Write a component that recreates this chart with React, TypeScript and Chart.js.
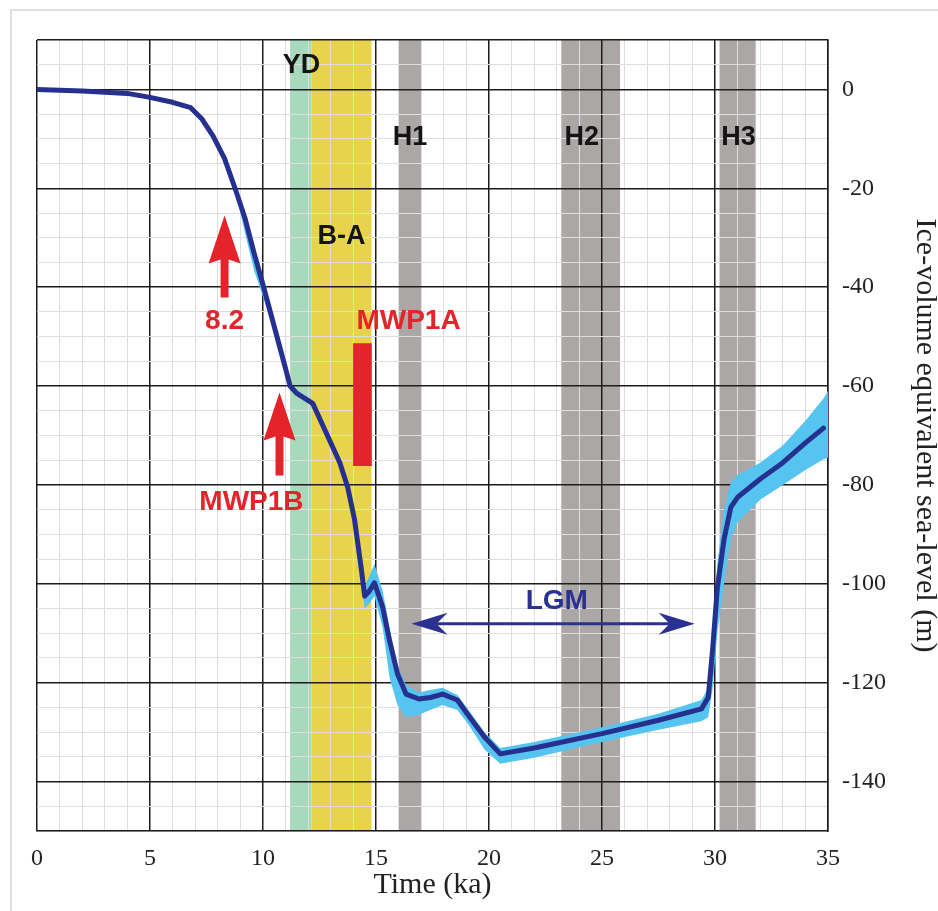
import { useEffect, useRef } from 'react';
import { Chart, registerables } from 'chart.js';

Chart.register(...registerables);

// Reconstructed ice-volume equivalent sea level (m) against age (ka)
const timeKa = [
  0, 2, 4, 5, 6, 6.8, 7.3, 7.8, 8.3, 8.8, 9.2, 9.6, 10.0, 10.5, 11.0, 11.2, 11.5, 12.2, 12.8, 13.4,
  13.75, 14.05, 14.35, 14.5, 14.7, 14.93, 15.3, 15.6, 15.95, 16.33, 16.9, 17.4, 17.95, 18.6, 19.1,
  19.8, 20.5, 22, 25, 27.5, 29.4, 29.7, 29.9, 30.1, 30.4, 30.7, 31.0, 32, 33, 34, 34.8, 35,
];
const seaLevel = [
  0, -0.3, -0.8, -1.6, -2.6, -3.7, -6, -9.5, -14, -20.5, -26, -33, -39.5, -48, -56.5, -60, -61.5, -63.5, -69.5, -75.5,
  -80.5, -87, -97, -102.5, -101.5, -99.8, -104.8, -111.5, -118.2, -122.3, -123.3, -123, -122.3, -123.5, -126.7,
  -131, -134.4, -133.2, -130.3, -127.6, -125.3, -123, -113, -101, -91, -84.5, -82.5, -78.8, -75.5, -71.5, -68.5, null,
];
const envelopeUpper = [
  0, -0.3, -0.8, -1.6, -2.6, -3.7, -6, -9.5, -14, -20, -25.5, -32.5, -39, -47.5, -56, -59.5, -61, -63, -69, -75,
  -80, -86, -95.5, -100.5, -98.5, -96, -101.5, -109, -116.5, -120.5, -122, -121.5, -121, -122.5, -125.5,
  -130, -133.2, -132, -129, -126.3, -123.5, -121, -109, -96, -85, -79.5, -78, -75.5, -72, -67, -62.5, -61,
];
const envelopeLower = [
  0, -0.3, -0.8, -1.6, -2.6, -3.7, -6, -9.5, -14, -21, -29, -36.5, -42, -49, -57, -60.5, -62, -64, -70, -76,
  -81.5, -88.5, -99, -105, -104, -102.5, -109, -119, -124.5, -127, -126.5, -125.5, -124.5, -125.5, -128.5,
  -133.5, -136.4, -135.2, -132, -129.5, -127.8, -127, -121, -110, -100, -91, -87.5, -83, -80, -77, -74.8, -74.5,
];

// Climate events shaded across the plot
const eventNames = ['YD', 'B-A', 'H1', 'H2', 'H3'];
const eventStart = [11.2, 12.15, 16.0, 23.2, 30.2];
const eventEnd = [12.15, 14.8, 17.0, 25.8, 31.8];
const eventColors = ['#a9d9bc', '#e8d34c', '#aca7a7', '#aca7a7', '#aca7a7'];
const eventLabelX = [11.7, 13.47, 16.5, 24.1, 31.04];
const eventLabelY = [4.75, -29.8, -9.7, -9.7, -9.7];

// Meltwater pulses marked with red arrows
const pulseNames = ['8.2', 'MWP1B'];
const pulseX = [8.3, 10.73];
const pulseTipY = [-25.5, -61.3];
const pulseTailY = [-42.1, -78.1];
const pulseLabelX = [8.3, 9.49];
const pulseLabelY = [-46.8, -83.6];

// MWP1A drawn as a red vertical bar
const mwp1aTime = 14.4;
const mwp1aRange = [-76.1, -51.4];
const mwp1aLabelX = 16.44;
const mwp1aLabelY = -46.8;

// Last Glacial Maximum span
const lgmStart = 16.57;
const lgmEnd = 29.1;
const lgmLevel = -108.1;
const lgmLabelX = 23.0;
const lgmLabelY = -103.6;

const xTickLabels = [0, 5, 10, 15, 20, 25, 30, 35];
const yTickLabels = [0, -20, -40, -60, -80, -100, -120, -140];

const RED = '#e5232b';
const NAVY = '#2b3190';

const overlayPlugin = {
  id: 'overlay',
  beforeDraw(chart: any) {
    const { ctx, chartArea, scales } = chart;
    const x = scales.x;
    ctx.save();
    eventStart.forEach((s, i) => {
      const x0 = x.getPixelForValue(s);
      const x1 = x.getPixelForValue(eventEnd[i]);
      ctx.fillStyle = eventColors[i];
      ctx.fillRect(x0, chartArea.top, x1 - x0, chartArea.bottom - chartArea.top);
    });
    ctx.restore();
  },
  afterDatasetsDraw(chart: any) {
    const { ctx, scales } = chart;
    const x = scales.x;
    const y = scales.y;
    ctx.save();
    ctx.textAlign = 'center';
    ctx.textBaseline = 'middle';

    // event labels
    ctx.fillStyle = '#141414';
    ctx.font = 'bold 27px "Liberation Sans", Arial, sans-serif';
    eventNames.forEach((n, i) => {
      ctx.fillText(n, x.getPixelForValue(eventLabelX[i]), y.getPixelForValue(eventLabelY[i]));
    });

    // pulse arrows
    ctx.fillStyle = RED;
    pulseX.forEach((px, i) => {
      const cx = x.getPixelForValue(px);
      const tip = y.getPixelForValue(pulseTipY[i]);
      const tail = y.getPixelForValue(pulseTailY[i]);
      const headLen = 48;
      const headHalf = 16;
      const shaftHalf = 4;
      ctx.beginPath();
      ctx.moveTo(cx, tip);
      ctx.lineTo(cx + headHalf, tip + headLen);
      ctx.lineTo(cx + shaftHalf, tip + headLen - 4);
      ctx.lineTo(cx + shaftHalf, tail);
      ctx.lineTo(cx - shaftHalf, tail);
      ctx.lineTo(cx - shaftHalf, tip + headLen - 4);
      ctx.lineTo(cx - headHalf, tip + headLen);
      ctx.closePath();
      ctx.fill();
    });
    ctx.font = 'bold 28px "Liberation Sans", Arial, sans-serif';
    pulseNames.forEach((n, i) => {
      ctx.fillText(n, x.getPixelForValue(pulseLabelX[i]), y.getPixelForValue(pulseLabelY[i]));
    });
    ctx.fillText('MWP1A', x.getPixelForValue(mwp1aLabelX), y.getPixelForValue(mwp1aLabelY));

    // LGM double arrow
    const lx0 = x.getPixelForValue(lgmStart);
    const lx1 = x.getPixelForValue(lgmEnd);
    const ly = y.getPixelForValue(lgmLevel);
    ctx.strokeStyle = NAVY;
    ctx.fillStyle = NAVY;
    ctx.lineWidth = 3;
    ctx.beginPath();
    ctx.moveTo(lx0 + 20, ly);
    ctx.lineTo(lx1 - 20, ly);
    ctx.stroke();
    const head = (tipX: number, dir: number) => {
      ctx.beginPath();
      ctx.moveTo(tipX, ly);
      ctx.lineTo(tipX + dir * 36, ly - 11);
      ctx.lineTo(tipX + dir * 25, ly);
      ctx.lineTo(tipX + dir * 36, ly + 11);
      ctx.closePath();
      ctx.fill();
    };
    head(lx0, 1);
    head(lx1, -1);
    ctx.font = 'bold 28px "Liberation Sans", Arial, sans-serif';
    ctx.fillText('LGM', x.getPixelForValue(lgmLabelX), y.getPixelForValue(lgmLabelY));
    ctx.restore();
  },
};

export default function App() {
  const ref = useRef<HTMLCanvasElement | null>(null);

  useEffect(() => {
    if (!ref.current) return;
    const pts = (vals: (number | null)[]) => timeKa.map((t, i) => ({ x: t, y: vals[i] }));
    const chart = new Chart(ref.current, {
      type: 'line',
      data: {
        datasets: [
          {
            label: 'upper',
            data: pts(envelopeUpper),
            borderWidth: 0,
            pointRadius: 0,
            backgroundColor: '#55c4f0',
            fill: '+1',
            order: 3,
          } as any,
          {
            label: 'lower',
            data: pts(envelopeLower),
            borderWidth: 0,
            pointRadius: 0,
            fill: false,
            order: 3,
          },
          {
            label: 'Sea level',
            data: pts(seaLevel),
            borderColor: '#26308f',
            borderWidth: 5,
            pointRadius: 0,
            fill: false,
            tension: 0,
            borderJoinStyle: 'round',
            borderCapStyle: 'round',
            order: 0,
          },
          {
            type: 'bar',
            label: 'MWP1A',
            data: [{ x: mwp1aTime, y: mwp1aRange }],
            backgroundColor: RED,
            barThickness: 18,
            grouped: false,
            order: 1,
          } as any,
        ],
      },
      options: {
        responsive: false,
        animation: false,
        layout: { padding: { left: 37, top: 40, right: 0, bottom: 0 } },
        plugins: { legend: { display: false }, tooltip: { enabled: false } },
        scales: {
          x: {
            type: 'linear',
            min: 0,
            max: 35,
            offset: false,
            afterFit: (s: any) => {
              s.height = 80;
            },
            ticks: {
              stepSize: 1,
              autoSkip: false,
              maxRotation: 0,
              minRotation: 0,
              padding: 13,
              color: '#222',
              font: { family: '"Liberation Serif", "Times New Roman", serif', size: 24 },
              callback: (v: any) => (xTickLabels.includes(Number(v)) ? String(v) : ''),
            },
            grid: {
              offset: false,
              drawTicks: false,
              color: (c: any) => (Number(c.tick?.value) % 5 === 0 ? '#1c1c1c' : '#dedede'),
              lineWidth: (c: any) => (Number(c.tick?.value) % 5 === 0 ? 1.5 : 1),
            },
            border: { color: '#1c1c1c', width: 1.5 },
            title: {
              display: true,
              text: 'Time (ka)',
              color: '#222',
              font: { family: '"Liberation Serif", "Times New Roman", serif', size: 30, lineHeight: 1.2 },
              padding: { top: 0, bottom: 8 },
            },
          },
          y: {
            type: 'linear',
            position: 'right',
            min: -150,
            max: 10,
            afterFit: (s: any) => {
              s.width = 110;
            },
            ticks: {
              stepSize: 5,
              autoSkip: false,
              padding: 14,
              color: '#222',
              font: { family: '"Liberation Serif", "Times New Roman", serif', size: 24 },
              callback: (v: any) => (yTickLabels.includes(Number(v)) ? String(v) : ''),
            },
            grid: {
              offset: false,
              drawTicks: false,
              color: (c: any) => {
                const v = Number(c.tick?.value);
                return v % 20 === 0 || v === 10 ? '#1c1c1c' : '#dedede';
              },
              lineWidth: (c: any) => {
                const v = Number(c.tick?.value);
                return v % 20 === 0 || v === 10 ? 1.5 : 1;
              },
            },
            border: { color: '#1c1c1c', width: 1.5 },
            title: {
              display: true,
              text: 'Ice-volume equivalent sea-level (m)',
              color: '#222',
              font: { family: '"Liberation Serif", "Times New Roman", serif', size: 30, lineHeight: 0.87 },
              padding: { top: 0, bottom: 0 },
            },
          },
        },
      },
      plugins: [overlayPlugin],
    });
    return () => chart.destroy();
  }, []);

  return (
    <div style={{ position: 'fixed', left: 0, top: 0, width: 938, height: 911, background: '#fff', overflow: 'hidden' }}>
      <div
        style={{
          position: 'absolute',
          left: 10,
          top: 9,
          width: 940,
          height: 920,
          borderLeft: '2px solid #e0e0e0',
          borderTop: '2px solid #e0e0e0',
        }}
      />
      <canvas ref={ref} width={938} height={911} style={{ position: 'absolute', left: 0, top: 0 }} />
    </div>
  );
}
